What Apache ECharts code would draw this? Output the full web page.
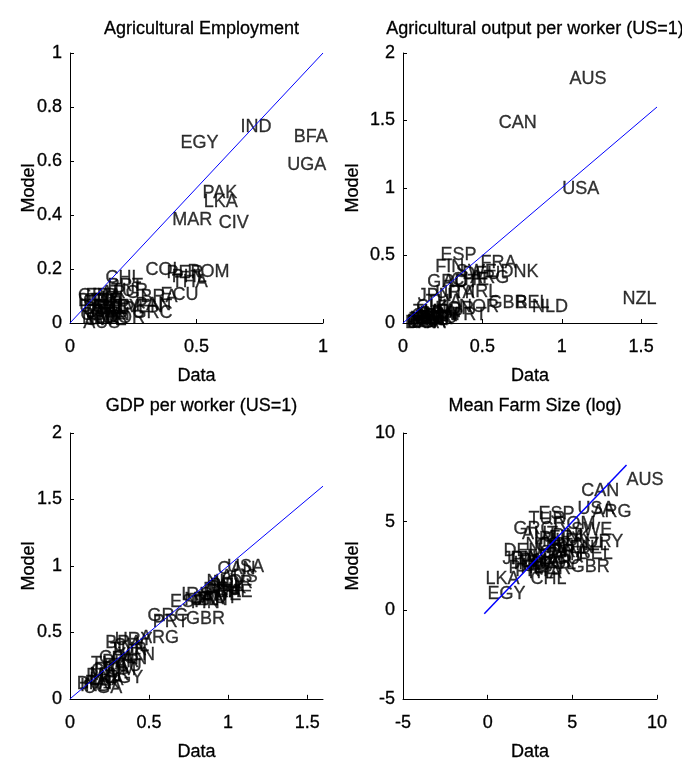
<!DOCTYPE html>
<html><head><meta charset="utf-8">
<script src="https://cdn.jsdelivr.net/npm/echarts@6/dist/echarts.min.js"></script>
<style>html,body{margin:0;padding:0;background:#fff}#c{width:682px;height:762px}</style>
</head><body><div id="c"></div>
<script>
const FONT = "'Liberation Sans', Arial, sans-serif";
const FS = 18;

const titles = ['Agricultural Employment', 'Agricultural output per worker (US=1)', 'GDP per worker (US=1)', 'Mean Farm Size (log)'];
const xName = 'Data';
const yName = 'Model';

// Panel 1: Agricultural Employment
const names1 = ['EGY','IND','BFA','UGA','PAK','LKA','MAR','CIV','COL','PER','ROM','PHL','THA','CHL','PRT','ECU','BRA','PAN','VEN','GRC',
  'GBR','BEL','USA','CAN','DEU','NLD','SWE','NOR','DNK','AUS','NZL','FIN','FRA','AUT','CHE','JPN','ITA','ESP','IRL','KOR','ARG','URY','TUR'];
const data1 = [0.435,0.672,0.882,0.857,0.522,0.527,0.402,0.586,0.296,0.379,0.462,0.40,0.40,0.138,0.146,0.356,0.277,0.257,0.22,0.245,
  0.03,0.03,0.035,0.04,0.05,0.045,0.06,0.07,0.06,0.05,0.09,0.09,0.06,0.08,0.05,0.10,0.08,0.11,0.12,0.14,0.12,0.13,0.16];
const model1 = [0.667,0.726,0.689,0.585,0.482,0.449,0.381,0.370,0.196,0.185,0.187,0.172,0.150,0.167,0.136,0.104,0.097,0.067,0.06,0.036,
  0.10,0.08,0.06,0.03,0.05,0.02,0.01,0.02,0.04,0.00,0.05,0.08,0.10,0.06,0.08,0.03,0.04,0.05,0.09,0.02,0.11,0.06,0.12];

// Panel 2: Agricultural output per worker
const names2 = ['AUS','CAN','USA','NZL','ESP','FRA','DNK','FIN','SWE','DEU','ARG','GRC','AUT','CHE','IRL','ITA','JPN','URY','GBR','BEL','NLD','NOR','PRT','KOR',
  'CHL','TUR','BRA','COL','MAR','EGY','IND','PAK','BFA','UGA','LKA','CIV','PER','PHL','ROM','ECU','PAN','VEN','THA'];
const data2 = [1.046,0.60,1.0,1.38,0.233,0.485,0.611,0.20,0.33,0.37,0.42,0.15,0.245,0.30,0.42,0.28,0.09,0.20,0.536,0.705,0.81,0.35,0.30,0.20,
  0.08,0.06,0.10,0.05,0.04,0.07,0.02,0.03,0.01,0.02,0.05,0.04,0.08,0.06,0.09,0.10,0.12,0.13,0.14];
const model2 = [1.807,1.48,0.99,0.178,0.504,0.444,0.38,0.415,0.38,0.36,0.33,0.30,0.30,0.32,0.23,0.22,0.20,0.22,0.148,0.148,0.12,0.12,0.06,0.10,
  0.12,0.08,0.07,0.05,0.03,0.04,0.01,0.02,0.00,0.00,0.01,0.00,0.03,0.02,0.06,0.04,0.05,0.08,0.155];

// Panel 3: GDP per worker
const names3 = ['USA','CAN','AUS','NLD','BEL','DEU','FRA','SWE','NOR','DNK','AUT','CHE','ITA','FIN','JPN','IRL','ESP','NZL','GBR','GRC','PRT','ARG',
  'URY','BRA','CHL','TUR','VEN','PAN','COL','PER','ECU','THA','ROM','MAR','PHL','EGY','CIV','PAK','LKA','IND','BFA','UGA'];
const data3 = [0.99,0.93,0.95,0.86,0.88,0.84,0.85,0.82,0.90,0.87,0.83,0.91,0.80,0.76,0.78,0.70,0.63,0.72,0.73,0.487,0.52,0.44,
  0.28,0.22,0.27,0.25,0.30,0.26,0.18,0.20,0.21,0.13,0.15,0.12,0.10,0.22,0.13,0.09,0.12,0.06,0.04,0.08];
const model3 = [0.99,0.975,0.92,0.88,0.85,0.82,0.80,0.78,0.87,0.83,0.76,0.80,0.75,0.72,0.74,0.78,0.73,0.74,0.60,0.62,0.58,0.455,
  0.44,0.42,0.40,0.37,0.33,0.30,0.31,0.28,0.25,0.26,0.22,0.18,0.17,0.16,0.21,0.12,0.14,0.10,0.11,0.08];

// Panel 4: Mean farm size (log)
const names4 = ['AUS','CAN','USA','ARG','ESP','GRC','TUR','ROM','SWE','URY','NZL','BEL','GBR','DEU','LKA','EGY','CHL',
  'DNK','NLD','FRA','IRL','AUT','CHE','NOR','FIN','ITA','JPN','PRT','PHL','IND','PAK','BFA','UGA','MAR','COL','PER','ECU','BRA','VEN','PAN','THA','CIV'];
const data4 = [8.17,5.5,5.27,6.16,2.97,1.49,2.38,3.86,4.9,5.75,5.16,5.35,4.87,0.9,-0.16,-0.04,2.5,
  3.8,3.2,3.6,2.7,2.0,2.8,2.2,3.4,1.3,0.84,1.6,1.2,1.5,1.9,2.3,2.0,2.6,3.0,2.7,3.2,3.7,4.1,3.5,2.2,3.0];
const model4 = [7.37,6.7,5.69,5.52,5.41,4.57,5.13,4.85,4.5,3.83,3.67,3.17,2.45,3.35,1.77,0.93,1.77,
  4.2,3.9,4.1,4.0,4.3,3.6,3.7,3.5,2.9,2.9,2.2,2.4,2.6,2.8,3.0,2.5,2.7,2.6,2.3,2.9,3.3,3.5,3.1,2.1,3.2];

// 45-degree reference line endpoints per panel
const diag = [[0,1],[0,1.6],[0,1.6],[-0.2,8.2]];

const axes = [
  {xMin:0,xMax:1,xInt:0.5,yMin:0,yMax:1,yInt:0.2},
  {xMin:0,xMax:1.6,xInt:0.5,yMin:0,yMax:2,yInt:0.5},
  {xMin:0,xMax:1.6,xInt:0.5,yMin:0,yMax:2,yInt:0.5},
  {xMin:-5,xMax:10,xInt:5,yMin:-5,yMax:10,yInt:5}
];
const grids = [
  {left:70,top:53,width:253,height:270},
  {left:403,top:53,width:254,height:270},
  {left:70,top:433,width:253,height:268},
  {left:403,top:433,width:254,height:268}
];
const yNameGaps = [32,41,32,41];
const panels = [[names1,data1,model1],[names2,data2,model2],[names3,data3,model3],[names4,data4,model4]];

const txt = {color:'#000', fontFamily:FONT, fontSize:FS, textBorderColor:'#000', textBorderWidth:0.3};
const option = {
  animation:false,
  backgroundColor:'#fff',
  title: titles.map((t,i)=>({
    text:t, left: grids[i].left + grids[i].width/2, textAlign:'center',
    top: i<2 ? 15 : 392,
    textStyle:{...txt, fontWeight:'normal'}
  })),
  grid: grids,
  xAxis: axes.map((a,i)=>({
    type:'value', gridIndex:i, min:a.xMin, max:a.xMax, interval:a.xInt,
    name:xName, nameLocation:'middle', nameGap:44, nameTextStyle:txt, nameMoveOverlap:false,
    axisLine:{show:true,onZero:false,lineStyle:{color:'#000',width:1}},
    axisTick:{show:true,inside:true,length:4,lineStyle:{color:'#000'}},
    axisLabel:{...txt, margin:15, showMaxLabel: a.xMax % a.xInt === 0,
      formatter: v => (Math.abs(v/a.xInt - Math.round(v/a.xInt))<1e-9 ? String(+v.toFixed(2)) : '')},
    splitLine:{show:false}
  })),
  yAxis: axes.map((a,i)=>({
    type:'value', gridIndex:i, min:a.yMin, max:a.yMax, interval:a.yInt,
    name:yName, nameLocation:'middle', nameGap:yNameGaps[i], nameTextStyle:txt, nameMoveOverlap:false,
    axisLine:{show:true,onZero:false,lineStyle:{color:'#000',width:1}},
    axisTick:{show:true,inside:true,length:4,lineStyle:{color:'#000'}},
    axisLabel:{...txt, margin:8, formatter: v => String(+v.toFixed(2))},
    splitLine:{show:false}
  })),
  series: []
};
panels.forEach((p,i)=>{
  const [nm, dx, my] = p;
  option.series.push({
    type:'scatter', xAxisIndex:i, yAxisIndex:i,
    symbolSize:1, itemStyle:{color:'rgba(0,0,0,0)'},
    data: nm.map((n,k)=>({name:n, value:[dx[k], my[k]]})),
    label:{show:true, position:'right', distance:0, formatter:'{b}', ...txt},
    clip:false, silent:true, z:2
  });
  option.series.push({
    type:'line', xAxisIndex:i, yAxisIndex:i, symbol:'none',
    data: diag[i].map(v=>[v,v]),
    lineStyle:{color:'#0000ff', width: i===3 ? 1.5 : 1},
    silent:true, z:3
  });
});
const chart = echarts.init(document.getElementById('c'), null, {renderer:'canvas'});
chart.setOption(option);
</script>
</body></html>
